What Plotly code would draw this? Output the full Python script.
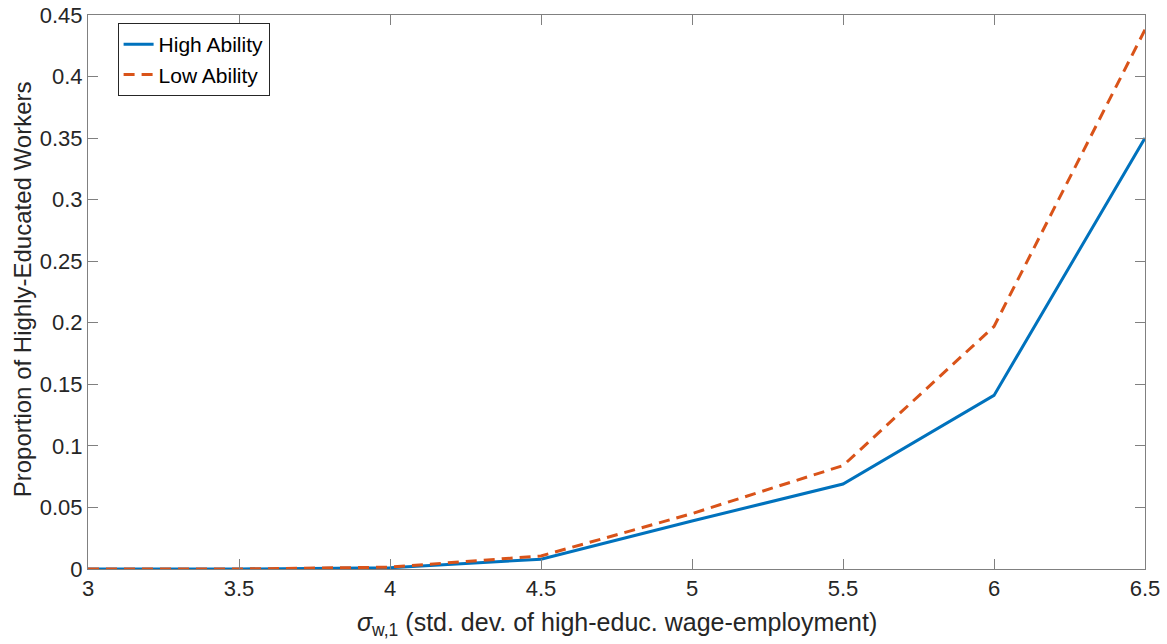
import plotly.graph_objects as go

sigma = [3, 3.5, 4, 4.5, 5, 5.5, 6, 6.5]
high_ability = [0.0, 0.0, 0.001, 0.008, 0.039, 0.069, 0.141, 0.350]
low_ability = [0.0, 0.0, 0.0015, 0.0106, 0.045, 0.084, 0.197, 0.438]

x_ticks = [3, 3.5, 4, 4.5, 5, 5.5, 6, 6.5]
x_ticklabels = ["3", "3.5", "4", "4.5", "5", "5.5", "6", "6.5"]
y_ticks = [0, 0.05, 0.1, 0.15, 0.2, 0.25, 0.3, 0.35, 0.4, 0.45]
y_ticklabels = ["0", "0.05", "0.1", "0.15", "0.2", "0.25", "0.3", "0.35", "0.4", "0.45"]

x_title = "<i>σ</i><sub>w,1</sub> (std. dev. of high-educ. wage-employment)"
y_title = "Proportion of Highly-Educated Workers"

FONT = "Liberation Sans, Arial, sans-serif"

fig = go.Figure()
fig.add_trace(go.Scatter(x=sigma, y=high_ability, mode="lines", name="High Ability",
                         line=dict(color="#0072BD", width=3)))
fig.add_trace(go.Scatter(x=sigma, y=low_ability, mode="lines", name="Low Ability",
                         line=dict(color="#D95319", width=3, dash="11px,7px")))

axis_common = dict(showgrid=False, zeroline=False, showline=True, linecolor="#808080",
                   linewidth=1, mirror="ticks", ticks="inside", ticklen=10,
                   tickcolor="#808080", tickwidth=1,
                   tickfont=dict(family=FONT, size=22, color="#262626"))

fig.update_xaxes(range=[3, 6.5], tickvals=x_ticks, ticktext=x_ticklabels, **axis_common)
fig.update_yaxes(range=[0, 0.45], tickvals=y_ticks, ticktext=y_ticklabels, **axis_common)

fig.add_annotation(text=x_title, xref="paper", yref="paper", x=0.5, y=-0.100,
                   xanchor="center", yanchor="middle", showarrow=False,
                   font=dict(family=FONT, size=25, color="#262626"))
fig.add_annotation(text=y_title, xref="paper", yref="paper", x=-0.0624, y=0.505,
                   xanchor="center", yanchor="middle", textangle=-90, showarrow=False,
                   font=dict(family=FONT, size=24, color="#262626"))

fig.update_layout(
    width=1167, height=644,
    margin=dict(l=88, r=22, t=15, b=75, autoexpand=False),
    plot_bgcolor="white", paper_bgcolor="white",
    legend=dict(x=0.028, y=0.9856, xanchor="left", yanchor="top",
                bgcolor="white", bordercolor="#262626", borderwidth=1,
                font=dict(family=FONT, size=21, color="#000000"),
                itemwidth=30, tracegroupgap=0),
    showlegend=True,
)

fig.write_html("out.html", config={"displayModeBar": False},
               post_script="document.body.style.margin='0';document.body.style.padding='0';")
